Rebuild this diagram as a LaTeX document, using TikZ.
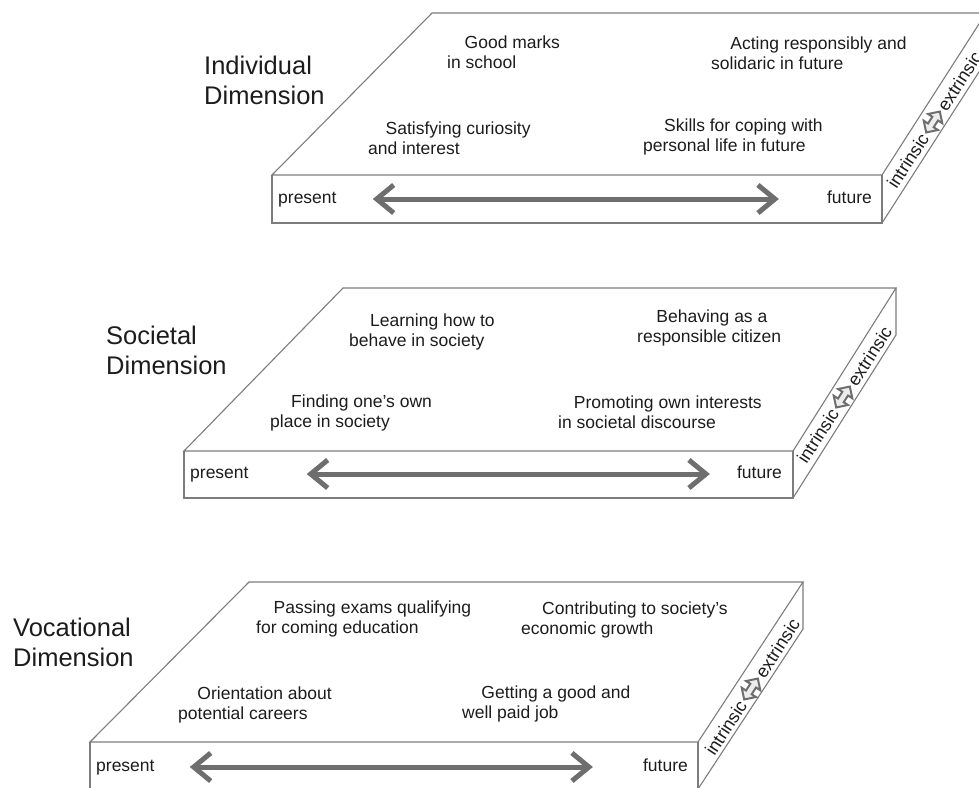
\documentclass[tikz,border=0pt]{standalone}
\usepackage{fontspec}
\setmainfont{Liberation Sans}
\usepackage{xcolor}
\usepackage{tikz}
\usetikzlibrary{arrows.meta,shapes.arrows}
\definecolor{edgegray}{HTML}{7C7C7C}
\definecolor{arrowgray}{HTML}{6E6E6E}
\definecolor{inkgray}{HTML}{1C1C1C}

\begin{document}
\begin{tikzpicture}[x=1pt,y=-1pt,
  every node/.style={inner sep=0pt,text=inkgray},
  slab/.style={draw=edgegray,line width=1.1pt},
  dimlabel/.style={font=\fontsize{25.5}{30}\selectfont,align=left,anchor=west},
  aimtext/.style={font=\fontsize{17.5}{20}\selectfont,align=left,anchor=west},
  endtext/.style={font=\fontsize{17.5}{20}\selectfont,text height=12pt,text depth=4pt},
  facetext/.style={font=\fontsize{18}{20}\selectfont,rotate=57,inner sep=1.5pt},
  swaparrow/.style={double arrow,draw=arrowgray,fill=gray!15,line width=2pt,rotate=57,
    minimum width=17pt,minimum height=25pt,double arrow head extend=4.5pt,inner sep=2pt},
  timearrow/.style={draw=arrowgray,line width=5pt,
    {Straight Barb[length=17pt,width=28pt]}-{Straight Barb[length=17pt,width=28pt]}}]
  \useasboundingbox (0,0) rectangle (979,787);
  \clip (0,0) rectangle (979,787);

  % individual slab
  \coordinate (i-fl) at (272,175);
  \coordinate (i-fr) at (882,175);
  \coordinate (i-bl) at (432,13);
  \coordinate (i-br) at (986,13);
  \draw[slab] (i-fl) -- (i-bl) -- (i-br) -- (i-fr) -- cycle;
  \draw[slab] (i-fl) -- ++(0,48) -| (i-fr);
  \draw[slab] (i-fr) ++(0,48) -- ++(104,-162) -- (i-br);
  \node[dimlabel] (i-dim) at (204,80) {Individual\\Dimension};
  \node[aimtext] (i-marks) at (447,52) {\hspace*{1em}Good marks\\in school};
  \node[aimtext] (i-act) at (711,53) {\hspace*{1.1em}Acting responsibly and\\solidaric in future};
  \node[aimtext] (i-curious) at (368,138) {\hspace*{1em}Satisfying curiosity\\and interest};
  \node[aimtext] (i-skills) at (643,137) {\hspace*{1.2em}Skills for coping with\\personal life in future};
  \node[endtext,anchor=west] (i-now) at (278,199) {present};
  \node[endtext,anchor=east] (i-later) at (872,199) {future};
  \draw[timearrow,shorten <=36pt,shorten >=48pt] (i-now) -- (i-later);
  \node[swaparrow] (i-swap) at (933,122) {};
  \node[facetext,anchor=east] (i-in) at (i-swap.west) {intrinsic};
  \node[facetext,anchor=west] (i-ex) at (i-swap.east) {extrinsic};

  % societal slab
  \coordinate (s-fl) at (184,451);
  \coordinate (s-fr) at (793,451);
  \coordinate (s-bl) at (343,288);
  \coordinate (s-br) at (896,288);
  \draw[slab] (s-fl) -- (s-bl) -- (s-br) -- (s-fr) -- cycle;
  \draw[slab] (s-fl) -- ++(0,47) -| (s-fr);
  \draw[slab] (s-fr) ++(0,47) -- ++(103,-163) -- (s-br);
  \node[dimlabel] (s-dim) at (106,350) {Societal\\Dimension};
  \node[aimtext] (s-learn) at (349,332) {\hspace*{1.2em}Learning how to\\behave in society};
  \node[aimtext] (s-citizen) at (637,328) {\hspace*{1.1em}Behaving as a\\responsible citizen};
  \node[aimtext] (s-place) at (270,413) {\hspace*{1.2em}Finding one's own\\place in society};
  \node[aimtext] (s-promote) at (558,412) {\hspace*{0.9em}Promoting own interests\\in societal discourse};
  \node[endtext,anchor=west] (s-now) at (190,474) {present};
  \node[endtext,anchor=east] (s-later) at (782,474) {future};
  \draw[timearrow,shorten <=58pt,shorten >=27pt] (s-now) -- (s-later);
  \node[swaparrow] (s-swap) at (843,397) {};
  \node[facetext,anchor=east] (s-in) at (s-swap.west) {intrinsic};
  \node[facetext,anchor=west] (s-ex) at (s-swap.east) {extrinsic};

  % vocational slab
  \coordinate (v-fl) at (90,742);
  \coordinate (v-fr) at (698,742);
  \coordinate (v-bl) at (249,582);
  \coordinate (v-br) at (803,582);
  \draw[slab] (v-fl) -- (v-bl) -- (v-br) -- (v-fr) -- cycle;
  \draw[slab] (v-fl) -- ++(0,47) -| (v-fr);
  \draw[slab] (v-fr) ++(0,47) -- ++(105,-160) -- (v-br);
  \node[dimlabel] (v-dim) at (13,642) {Vocational\\Dimension};
  \node[aimtext] (v-exams) at (256,619) {\hspace*{1em}Passing exams qualifying\\for coming education};
  \node[aimtext] (v-growth) at (521,620) {\hspace*{1.2em}Contributing to society's\\economic growth};
  \node[aimtext] (v-career) at (178,705) {\hspace*{1.1em}Orientation about\\potential careers};
  \node[aimtext] (v-job) at (462,704) {\hspace*{1.1em}Getting a good and\\well paid job};
  \node[endtext,anchor=west] (v-now) at (96,767) {present};
  \node[endtext,anchor=east] (v-later) at (688,767) {future};
  \draw[timearrow,shorten <=35pt,shorten >=50pt] (v-now) -- (v-later);
  \node[swaparrow] (v-swap) at (751,689) {};
  \node[facetext,anchor=east] (v-in) at (v-swap.west) {intrinsic};
  \node[facetext,anchor=west] (v-ex) at (v-swap.east) {extrinsic};
\end{tikzpicture}
\end{document}
